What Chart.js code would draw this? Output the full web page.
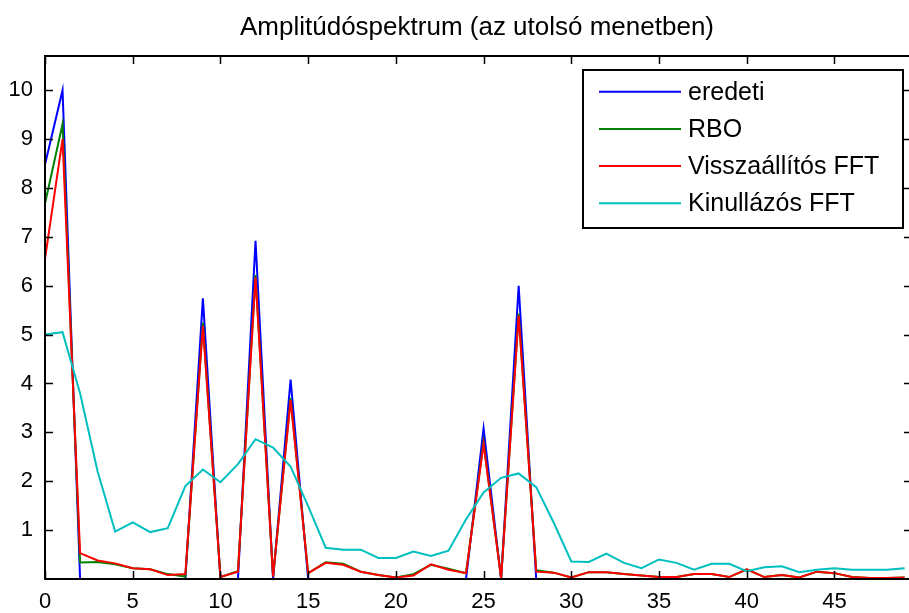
<!DOCTYPE html>
<html>
<head>
<meta charset="utf-8">
<title>Amplitúdóspektrum</title>
<script src="https://cdn.jsdelivr.net/npm/chart.js@4/dist/chart.umd.min.js"></script>
<style>
  html, body { margin: 0; padding: 0; background: #ffffff; }
  canvas { display: block; }
</style>
</head>
<body>
<canvas id="spectrum" width="909" height="613"></canvas>
<script>
// Frequency bins (x axis)
const frequencies = [0, 1, 2, 3, 4, 5, 6, 7, 8, 9, 10, 11, 12, 13, 14, 15, 16, 17, 18, 19,
                     20, 21, 22, 23, 24, 25, 26, 27, 28, 29, 30, 31, 32, 33, 34, 35, 36, 37, 38, 39,
                     40, 41, 42, 43, 44, 45, 46, 47, 48, 49];

// Original spectrum
const eredeti = [8.48, 10.0, 0, 0, 0, 0, 0, 0, 0, 5.74, 0, 0, 6.92, 0, 4.08, 0, 0, 0, 0, 0,
                 0, 0, 0, 0, 0, 3.08, 0, 6.0, 0, 0, 0, 0, 0, 0, 0, 0, 0, 0, 0, 0,
                 0, 0, 0, 0, 0, 0, 0, 0, 0, 0];

// RBO reconstruction
const rbo = [7.68, 9.31, 0.34, 0.35, 0.30, 0.22, 0.20, 0.10, 0.05, 5.24, 0.04, 0.16, 6.22, 0.05, 3.70, 0.12, 0.34, 0.31, 0.15, 0.08,
             0.03, 0.10, 0.29, 0.21, 0.12, 2.80, 0.02, 5.43, 0.18, 0.13, 0.03, 0.14, 0.14, 0.10, 0.07, 0.04, 0.04, 0.10, 0.10, 0.04,
             0.20, 0.04, 0.08, 0.03, 0.15, 0.12, 0.04, 0.02, 0.02, 0.03];

// FFT with restoration
const visszaallitos = [6.55, 9.0, 0.53, 0.38, 0.32, 0.22, 0.20, 0.08, 0.10, 5.18, 0.04, 0.15, 6.17, 0.05, 3.66, 0.12, 0.33, 0.29, 0.15, 0.08,
                       0.03, 0.07, 0.30, 0.19, 0.12, 2.76, 0.02, 5.39, 0.15, 0.13, 0.03, 0.14, 0.14, 0.10, 0.07, 0.04, 0.04, 0.10, 0.10, 0.04,
                       0.20, 0.04, 0.08, 0.03, 0.15, 0.12, 0.04, 0.02, 0.02, 0.03];

// FFT with zero-filling
const kinullazos = [5.0, 5.05, 3.80, 2.20, 0.97, 1.16, 0.96, 1.04, 1.90, 2.24, 1.98, 2.35, 2.86, 2.69, 2.30, 1.49, 0.64, 0.60, 0.60, 0.43,
                    0.43, 0.56, 0.47, 0.58, 1.22, 1.77, 2.07, 2.16, 1.88, 1.15, 0.36, 0.35, 0.52, 0.33, 0.22, 0.40, 0.33, 0.19, 0.31, 0.31,
                    0.16, 0.24, 0.26, 0.14, 0.19, 0.22, 0.19, 0.19, 0.19, 0.22];

const seriesNames = ['eredeti', 'RBO', 'Visszaállítós FFT', 'Kinullázós FFT'];
const seriesColors = ['#0000ff', '#008000', '#ff0000', '#00bfbf'];

const xTicks = [0, 5, 10, 15, 20, 25, 30, 35, 40, 45];
const yTicks = [1, 2, 3, 4, 5, 6, 7, 8, 9, 10];

const FONT = '"Liberation Sans", Arial, Helvetica, sans-serif';
Chart.defaults.font.family = FONT;
Chart.defaults.color = '#000000';

function toPoints(values) {
  return values.map((v, i) => ({ x: frequencies[i], y: v }));
}

// Boxed axes with inward tick marks on all four sides, drawn over the curves
const axesBox = {
  id: 'axesBox',
  afterDatasetsDraw(chart) {
    const { ctx, chartArea: a, scales } = chart;
    const len = 8;
    ctx.save();
    ctx.strokeStyle = '#000000';
    ctx.lineWidth = 2;
    ctx.beginPath();
    ctx.moveTo(a.right + 3, a.top);
    ctx.lineTo(a.left, a.top);
    ctx.lineTo(a.left, a.bottom);
    ctx.lineTo(a.right + 3, a.bottom);
    ctx.stroke();
    ctx.lineWidth = 1.5;
    ctx.beginPath();
    xTicks.forEach(v => {
      const px = Math.round(scales.x.getPixelForValue(v)) + 0.5;
      ctx.moveTo(px, a.bottom);
      ctx.lineTo(px, a.bottom - len);
      ctx.moveTo(px, a.top);
      ctx.lineTo(px, a.top + len);
    });
    yTicks.forEach(v => {
      const py = Math.round(scales.y.getPixelForValue(v)) + 0.5;
      ctx.moveTo(a.left, py);
      ctx.lineTo(a.left + len, py);
      ctx.moveTo(a.right + 3, py);
      ctx.lineTo(a.right + 3 - len, py);
    });
    ctx.stroke();
    ctx.restore();
  }
};

// Legend box inside the plot, upper right corner
const boxLegend = {
  id: 'boxLegend',
  afterDatasetsDraw(chart) {
    const { ctx, chartArea: a } = chart;
    const w = 320, h = 158;
    const left = a.right - 326;
    const top = a.top + 14;
    ctx.save();
    ctx.fillStyle = '#ffffff';
    ctx.fillRect(left, top, w, h);
    ctx.strokeStyle = '#000000';
    ctx.lineWidth = 2;
    ctx.strokeRect(left, top, w, h);
    ctx.font = '25px ' + FONT;
    ctx.textBaseline = 'middle';
    ctx.textAlign = 'left';
    chart.data.datasets.forEach((ds, i) => {
      const yy = top + 21.7 + i * 37.2;
      ctx.strokeStyle = ds.borderColor;
      ctx.lineWidth = 2;
      ctx.beginPath();
      ctx.moveTo(left + 16, yy);
      ctx.lineTo(left + 98, yy);
      ctx.stroke();
      ctx.fillStyle = '#000000';
      ctx.fillText(ds.label, left + 105, yy + 1);
    });
    ctx.restore();
  }
};

const drawOrder = [3, 2, 1, 0];
const seriesValues = [eredeti, rbo, visszaallitos, kinullazos];

new Chart(document.getElementById('spectrum'), {
  type: 'line',
  data: {
    datasets: seriesValues.map((vals, i) => ({
      label: seriesNames[i],
      data: toPoints(vals),
      borderColor: seriesColors[i],
      backgroundColor: seriesColors[i],
      borderWidth: 2,
      pointRadius: 0,
      tension: 0,
      fill: false,
      order: drawOrder[i]
    }))
  },
  options: {
    responsive: false,
    animation: false,
    devicePixelRatio: 1,
    layout: { padding: 0 },
    plugins: {
      legend: { display: false },
      tooltip: { enabled: false },
      title: {
        display: true,
        text: 'Amplitúdóspektrum (az utolsó menetben)',
        fullSize: false,
        color: '#000000',
        font: { size: 26, weight: 'normal', lineHeight: 1.2 },
        padding: { top: 12, bottom: 12.8 }
      }
    },
    scales: {
      x: {
        type: 'linear',
        min: 0,
        max: 49.25,
        grid: { display: false, drawTicks: false },
        border: { display: false },
        afterBuildTicks: s => { s.ticks = xTicks.map(v => ({ value: v })); },
        afterFit: s => { s.height = 34; },
        ticks: { padding: 10, font: { size: 22 }, color: '#000000', maxRotation: 0 }
      },
      y: {
        type: 'linear',
        min: 0,
        max: 10.7,
        grid: { display: false, drawTicks: false },
        border: { display: false },
        afterBuildTicks: s => { s.ticks = yTicks.map(v => ({ value: v })); },
        afterFit: s => { s.width = 45; },
        ticks: { padding: 12, font: { size: 22 }, color: '#000000' }
      }
    }
  },
  plugins: [axesBox, boxLegend]
});
</script>
</body>
</html>
